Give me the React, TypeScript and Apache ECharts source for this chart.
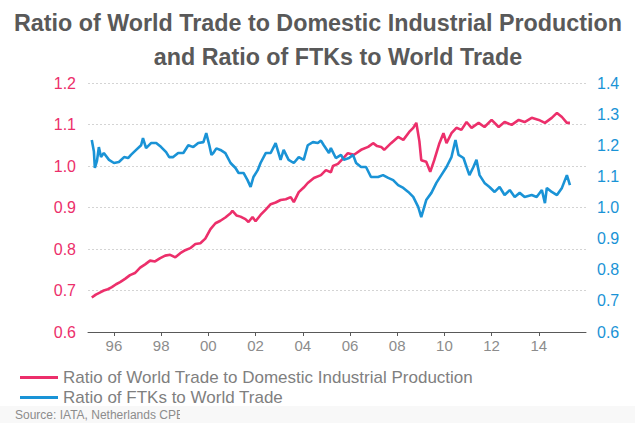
import React, { useEffect, useRef } from "react";
import * as echarts from "echarts";

const titleLine1 = "Ratio of World Trade to Domestic Industrial Production";
const titleLine2 = "and Ratio of FTKs to World Trade";
const seriesNames = [
  "Ratio of World Trade to Domestic Industrial Production",
  "Ratio of FTKs to World Trade",
];
const sourceText = "Source: IATA, Netherlands CPB";

const xTickYears = [1996, 1998, 2000, 2002, 2004, 2006, 2008, 2010, 2012, 2014];

const tradeYears = [
  1995.06, 1995.23, 1995.4, 1995.57, 1995.74, 1995.91, 1996.09, 1996.26, 1996.47, 1996.68,
  1996.89, 1997.11, 1997.32, 1997.53, 1997.74, 1997.96, 1998.17, 1998.38, 1998.6, 1998.81,
  1999.02, 1999.23, 1999.45, 1999.66, 1999.87, 2000.09, 2000.3, 2000.51, 2000.72, 2000.94,
  2001.02, 2001.19, 2001.36, 2001.57, 2001.7, 2001.87, 2002.0, 2002.21, 2002.43, 2002.64,
  2002.85, 2003.06, 2003.28, 2003.49, 2003.62, 2003.83, 2004.04, 2004.21, 2004.47, 2004.77,
  2004.98, 2005.19, 2005.28, 2005.49, 2005.7, 2005.91, 2006.17, 2006.47, 2006.77, 2006.98,
  2007.15, 2007.32, 2007.45, 2007.74, 2008.04, 2008.26, 2008.51, 2008.68, 2008.81, 2008.94,
  2009.02, 2009.23, 2009.4, 2009.57, 2009.79, 2009.96, 2010.09, 2010.3, 2010.51, 2010.72,
  2010.94, 2011.15, 2011.45, 2011.7, 2012.0, 2012.3, 2012.55, 2012.85, 2013.15, 2013.4,
  2013.7, 2014.0, 2014.26, 2014.55, 2014.77, 2014.98, 2015.19, 2015.32,
];
const tradeValues = [
  0.683, 0.69, 0.695, 0.7, 0.703, 0.708, 0.715, 0.72, 0.728, 0.737,
  0.742, 0.755, 0.763, 0.772, 0.77, 0.778, 0.784, 0.786, 0.78, 0.79,
  0.797, 0.802, 0.812, 0.814, 0.825, 0.848, 0.862, 0.868, 0.876, 0.886,
  0.892, 0.881, 0.878, 0.872, 0.865, 0.877, 0.867, 0.882, 0.895, 0.908,
  0.912, 0.918, 0.92, 0.925, 0.913, 0.937, 0.948, 0.959, 0.971, 0.978,
  0.99, 0.985, 1.0, 1.005, 1.018, 1.031, 1.027, 1.039, 1.046, 1.055,
  1.048, 1.046, 1.039, 1.055, 1.07, 1.063, 1.082, 1.092, 1.104, 1.06,
  1.014, 1.01, 0.986, 1.014, 1.055, 1.079, 1.055, 1.079, 1.092, 1.087,
  1.106, 1.092, 1.104, 1.094, 1.111, 1.094, 1.106, 1.099, 1.111, 1.106,
  1.116, 1.111, 1.104, 1.116, 1.128, 1.118, 1.104, 1.104,
];

const ftkYears = [
  1995.06, 1995.15, 1995.19, 1995.28, 1995.36, 1995.45, 1995.57, 1995.79, 1996.0, 1996.21,
  1996.43, 1996.6, 1996.72, 1996.94, 1997.15, 1997.23, 1997.36, 1997.57, 1997.79, 1998.0,
  1998.21, 1998.34, 1998.51, 1998.72, 1998.94, 1999.15, 1999.36, 1999.57, 1999.79, 1999.91,
  2000.04, 2000.13, 2000.21, 2000.34, 2000.51, 2000.72, 2000.94, 2001.15, 2001.28, 2001.49,
  2001.66, 2001.79, 2001.91, 2002.09, 2002.21, 2002.43, 2002.64, 2002.85, 2003.06, 2003.19,
  2003.4, 2003.62, 2003.83, 2004.04, 2004.21, 2004.43, 2004.64, 2004.77, 2004.89, 2005.11,
  2005.19, 2005.4, 2005.62, 2005.74, 2005.96, 2006.13, 2006.26, 2006.47, 2006.68, 2006.89,
  2007.19, 2007.4, 2007.62, 2007.83, 2008.04, 2008.26, 2008.47, 2008.68, 2008.89, 2009.02,
  2009.23, 2009.45, 2009.66, 2009.87, 2010.09, 2010.3, 2010.47, 2010.6, 2010.81, 2010.94,
  2011.06, 2011.23, 2011.36, 2011.49, 2011.7, 2011.91, 2012.13, 2012.34, 2012.55, 2012.77,
  2012.98, 2013.19, 2013.4, 2013.7, 2013.91, 2014.13, 2014.26, 2014.34, 2014.55, 2014.77,
  2014.98, 2015.19, 2015.32,
];
const ftkValues = [
  1.217, 1.18, 1.127, 1.15, 1.194, 1.162, 1.175, 1.153, 1.143, 1.146,
  1.162, 1.159, 1.169, 1.185, 1.2, 1.223, 1.191, 1.207, 1.207, 1.194,
  1.178, 1.162, 1.162, 1.175, 1.175, 1.2, 1.194, 1.207, 1.21, 1.239,
  1.2, 1.169, 1.175, 1.19, 1.185, 1.175, 1.143, 1.127, 1.111, 1.111,
  1.088, 1.066, 1.098, 1.12, 1.143, 1.175, 1.175, 1.207, 1.153, 1.185,
  1.153, 1.143, 1.162, 1.153, 1.2, 1.21, 1.207, 1.215, 1.2, 1.175,
  1.191, 1.159, 1.169, 1.153, 1.159, 1.169, 1.143, 1.13, 1.13, 1.098,
  1.098, 1.104, 1.095, 1.088, 1.072, 1.063, 1.05, 1.034, 1.002, 0.969,
  1.024, 1.047, 1.079, 1.104, 1.13, 1.162, 1.217, 1.169, 1.159, 1.13,
  1.104, 1.13, 1.153, 1.104, 1.079, 1.066, 1.05, 1.066, 1.04, 1.056,
  1.034, 1.047, 1.034, 1.04, 1.034, 1.056, 1.014, 1.063, 1.05, 1.04,
  1.063, 1.104, 1.072,
];

const FONT = "'Liberation Sans', Arial, sans-serif";
const PINK = "#ec2f6b";
const BLUE = "#1a93d6";

export default function App() {
  const ref = useRef<HTMLDivElement>(null);
  useEffect(() => {
    if (!ref.current) return;
    const chart = echarts.init(ref.current, null, { renderer: "svg" });
    const tradeData = tradeYears.map((y, i) => [y, tradeValues[i]]);
    const ftkData = ftkYears.map((y, i) => [y, ftkValues[i]]);
    chart.setOption({
      animation: false,
      backgroundColor: "#ffffff",
      textStyle: { fontFamily: FONT },
      grid: { left: 88, right: 49, top: 83, bottom: 91, containLabel: false },
      legend: {
        orient: "vertical",
        left: 15,
        top: 364,
        itemWidth: 38,
        itemHeight: 3,
        itemGap: 3,
        icon: "rect",
        textStyle: { color: "#7f7f7f", fontSize: 17, fontFamily: FONT },
        data: seriesNames,
      },
      xAxis: {
        type: "value",
        min: 1994.9,
        max: 2016,
        axisLine: { show: true, lineStyle: { color: "#595959", width: 1 } },
        axisTick: {
          show: true,
          length: 4,
          lineStyle: { color: "#595959" },
          customValues: xTickYears,
        },
        axisLabel: {
          color: "#8c8c8c",
          fontSize: 15,
          margin: 6,
          customValues: xTickYears,
          formatter: (v: number) => String(Math.round(v) % 100).padStart(2, "0"),
        },
        splitLine: { show: false },
      },
      yAxis: [
        {
          type: "value",
          min: 0.6,
          max: 1.2,
          interval: 0.1,
          axisLine: { show: false },
          axisTick: { show: false },
          axisLabel: {
            color: PINK,
            fontSize: 16,
            margin: 12,
            formatter: (v: number) => v.toFixed(1),
          },
          splitLine: { show: true, lineStyle: { color: "#d4d4d4", type: [2, 2], width: 1 } },
        },
        {
          type: "value",
          min: 0.6,
          max: 1.4,
          interval: 0.1,
          position: "right",
          axisLine: { show: false },
          axisTick: { show: false },
          axisLabel: {
            color: BLUE,
            fontSize: 16,
            margin: 11,
            formatter: (v: number) => v.toFixed(1),
          },
          splitLine: { show: false },
        },
      ],
      series: [
        {
          name: seriesNames[0],
          type: "line",
          yAxisIndex: 0,
          data: tradeData,
          showSymbol: false,
          symbol: "none",
          lineStyle: { color: PINK, width: 2.6 },
          itemStyle: { color: PINK },
          z: 2,
        },
        {
          name: seriesNames[1],
          type: "line",
          yAxisIndex: 1,
          data: ftkData,
          showSymbol: false,
          symbol: "none",
          lineStyle: { color: BLUE, width: 2.6 },
          itemStyle: { color: BLUE },
          z: 3,
        },
      ],
      graphic: [
        {
          type: "rect",
          shape: { x: 0, y: 406, width: 635, height: 17 },
          style: { fill: "#f8f8f8" },
          z: -10,
          silent: true,
        },
        {
          type: "text",
          style: {
            text: titleLine1,
            x: 318,
            y: 23,
            align: "center",
            verticalAlign: "middle",
            fill: "#595959",
            font: `bold 23.3px ${FONT}`,
          },
        },
        {
          type: "text",
          style: {
            text: titleLine2,
            x: 338,
            y: 57,
            align: "center",
            verticalAlign: "middle",
            fill: "#595959",
            font: `bold 23.3px ${FONT}`,
          },
        },
        {
          type: "text",
          style: {
            text: sourceText,
            x: 15,
            y: 415,
            align: "left",
            verticalAlign: "middle",
            fill: "#8c8c8c",
            font: `12px ${FONT}`,
          },
          z: 5,
        },
        {
          type: "rect",
          shape: { x: 180, y: 406, width: 40, height: 17 },
          style: { fill: "#f8f8f8" },
          z: 10,
          silent: true,
        },
      ],
    });
    return () => chart.dispose();
  }, []);
  return (
    <div
      ref={ref}
      style={{ position: "fixed", left: 0, top: 0, width: 635, height: 423 }}
    />
  );
}
